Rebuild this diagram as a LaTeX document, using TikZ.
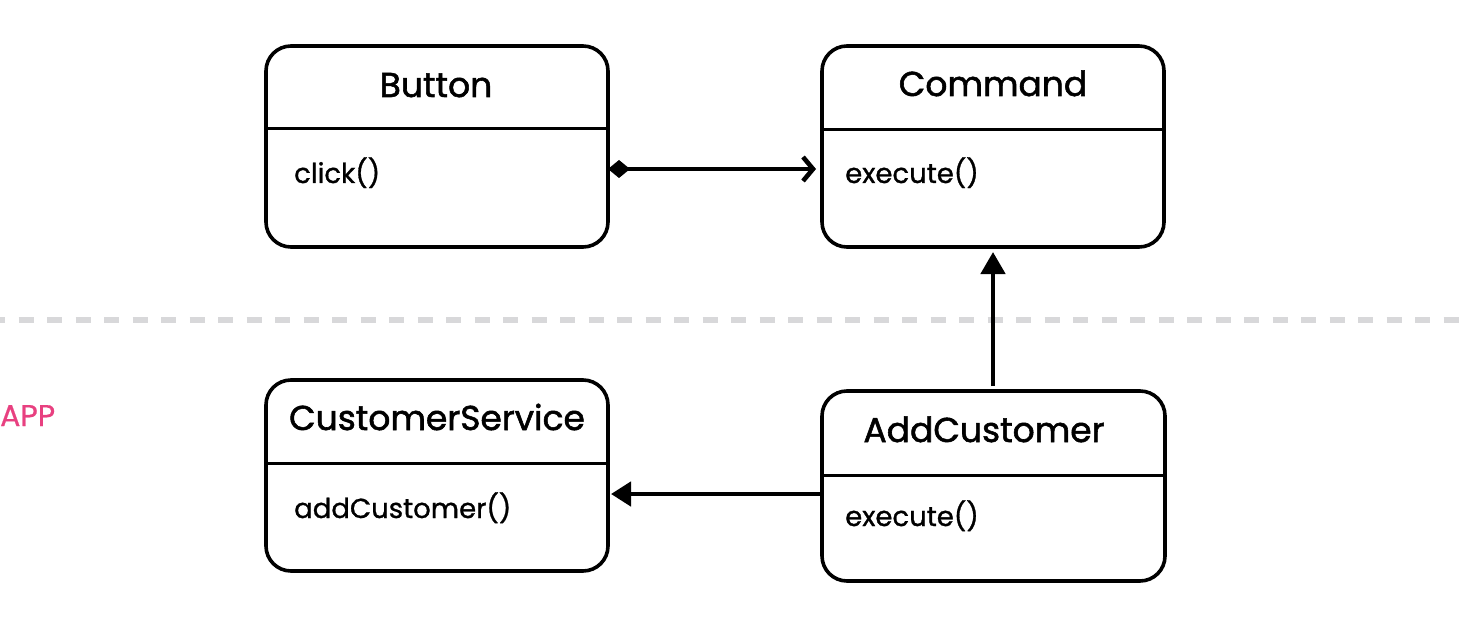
\documentclass[tikz,border=0pt]{standalone}
\usepackage{fontspec}
\setmainfont{Poppins}
\newfontfamily\headfont{Poppins}[FakeBold=1.6]
\newfontfamily\opfont{Poppins}[FakeBold=1.0]
\newfontfamily\appfont{Poppins}[FakeBold=0.6]
\usetikzlibrary{arrows.meta}
\definecolor{appink}{RGB}{232,64,128}
\definecolor{sepgray}{RGB}{216,216,218}
\tikzset{
  umlbox/.style={draw=black, line width=3.6pt, rounded corners=25pt, outer sep=0pt, inner sep=0pt},
  divider/.style={draw=black, line width=3pt},
  header/.style={anchor=base, inner sep=0pt, font=\headfont\fontsize{34.5}{38}\selectfont},
  method/.style={anchor=base west, inner sep=0pt, font=\opfont\fontsize{27.5}{30}\selectfont},
  conn/.style={draw=black, line width=4.6pt},
  sepline/.style={draw=sepgray, line width=6pt, dash pattern=on 15pt off 13.5pt, dash phase=10pt}
}
\begin{document}
\begin{tikzpicture}[x=1pt, y=-1pt]
  \useasboundingbox (0,0) rectangle (1471,636);
  \fill[white] (0,0) rectangle (1471,636);

  % layer separator
  \coordinate (sepL) at (0,320);
  \coordinate (sepR) at (1471,320);
  \draw[sepline] (sepL) -- (sepR);
  \node[anchor=base west, inner sep=0pt, text=appink, font=\appfont\fontsize{30}{32}\selectfont] (app) at (0,426) {APP};

  % classes
  \node[umlbox, minimum width=342pt, minimum height=201pt] (button) at (437,146.5) {};
  \node[umlbox, minimum width=342pt, minimum height=201pt] (command) at (993,146.5) {};
  \node[umlbox, minimum width=342pt, minimum height=191pt] (cs) at (437,475.5) {};
  \node[umlbox, minimum width=343pt, minimum height=190pt] (addc) at (993.5,486) {};

  % compartment dividers
  \coordinate (d1) at (0,129);
  \coordinate (d2) at (0,130);
  \coordinate (d3) at (0,463);
  \coordinate (d4) at (0,475);
  \draw[divider] (button.west |- d1) -- (button.east |- d1);
  \draw[divider] (command.west |- d2) -- (command.east |- d2);
  \draw[divider] (cs.west |- d3) -- (cs.east |- d3);
  \draw[divider] (addc.west |- d4) -- (addc.east |- d4);

  % class names
  \node[header] (buttonT) at (436,97) {Button};
  \node[header] (commandT) at (993,96) {Command};
  \node[header] (csT) at (437,430) {CustomerService};
  \node[header] (addcT) at (984,442) {AddCustomer};

  % operations
  \node[method] (buttonM) at (294,183) {click()};
  \node[method] (commandM) at (845,183) {execute()};
  \node[method] (csM) at (294,518) {addCustomer()};
  \node[method] (addcM) at (845,526) {execute()};

  % relations
  \coordinate (r1) at (0,169);
  \coordinate (r2) at (0,494);
  \draw[conn, {Diamond[length=22pt,width=18pt]}-{Straight Barb[length=10pt,width=24pt,line width=4.6pt]}, shorten >=6pt]
    (button.east |- r1) -- (command.west |- r1);
  \draw[conn, -{Triangle[length=22pt,width=24pt]}, shorten <=5pt, shorten >=5pt]
    (addc.north -| command.south) -- (command.south);
  \draw[conn, -{Triangle[length=20pt,width=24pt]}, shorten >=3pt]
    (addc.west |- r2) -- (cs.east |- r2);
\end{tikzpicture}
\end{document}
